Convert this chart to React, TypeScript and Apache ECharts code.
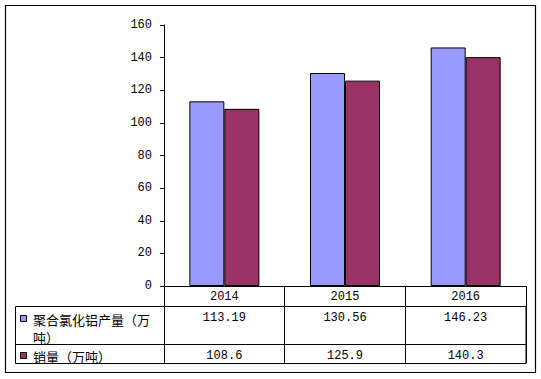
import React, { useEffect, useRef } from "react";
import * as echarts from "echarts";

const categories = ["2014", "2015", "2016"];
const seriesNames = ["聚合氯化铝产量（万吨）", "销量（万吨）"];
const seriesColors = ["#9999FF", "#993366"];
const production = [113.19, 130.56, 146.23];
const sales = [108.6, 125.9, 140.3];
const yMin = 0;
const yMax = 160;
const yStep = 20;

const numFont = "'Liberation Mono', 'Noto Sans CJK SC', monospace";
const cjkFont = "'Noto Sans CJK SC', sans-serif";

export default function App() {
  const ref = useRef<HTMLDivElement>(null);
  useEffect(() => {
    if (!ref.current) return;
    const chart = echarts.init(ref.current, undefined, { renderer: "svg" });
    const valueAxis = (offset: number, vals: number[]) => ({
      type: "category",
      data: categories,
      position: "bottom",
      offset,
      gridIndex: 0,
      axisLine: { show: false },
      axisTick: { show: false },
      axisLabel: {
        margin: 6,
        fontSize: 12,
        fontFamily: numFont,
        color: "#000",
        formatter: (_v: string, i: number) => String(vals[i]),
      },
    });
    const legendRows = [310, 347];
    const legendGraphics: any[] = [];
    seriesNames.forEach((name, i) => {
      legendGraphics.push({
        type: "rect",
        shape: { x: 20.5, y: legendRows[i] + 5.5, width: 6, height: 6 },
        style: { fill: seriesColors[i], stroke: "#000", lineWidth: 1 },
        silent: true,
      });
      legendGraphics.push({
        type: "text",
        x: 33,
        y: legendRows[i],
        style: {
          text: name,
          font: `13px ${cjkFont}`,
          fill: "#000",
          width: 122,
          overflow: "break",
          lineHeight: 18,
          verticalAlign: "top",
        },
        silent: true,
      });
    });
    chart.setOption({
      animation: false,
      backgroundColor: "#fff",
      grid: { left: 164, right: 15, top: 25, bottom: 93, containLabel: false },
      xAxis: [
        {
          type: "category",
          data: categories,
          position: "bottom",
          axisLine: { show: true, lineStyle: { color: "#000", width: 1 } },
          axisTick: { show: true, length: 77, lineStyle: { color: "#000", width: 1 } },
          axisLabel: { margin: 5, fontSize: 12, fontFamily: numFont, color: "#000" },
        },
        valueAxis(20, production),
        valueAxis(58, sales),
      ],
      yAxis: {
        type: "value",
        min: yMin,
        max: yMax,
        interval: yStep,
        axisLine: { show: true, lineStyle: { color: "#000", width: 1 } },
        axisTick: { show: true, length: 4, lineStyle: { color: "#000" } },
        splitLine: { show: false },
        axisLabel: { margin: 12, fontSize: 12, fontFamily: numFont, color: "#000" },
      },
      series: [
        {
          name: seriesNames[0],
          type: "bar",
          data: production,
          barWidth: 35,
          barGap: "0%",
          itemStyle: { color: seriesColors[0], borderColor: "#000", borderWidth: 1 },
        },
        {
          name: seriesNames[1],
          type: "bar",
          data: sales,
          barWidth: 35,
          barGap: "0%",
          itemStyle: { color: seriesColors[1], borderColor: "#000", borderWidth: 1 },
        },
      ],
      graphic: [
        {
          type: "rect",
          shape: { x: 5.5, y: 5.5, width: 530, height: 367 },
          style: { fill: "none", stroke: "#000", lineWidth: 1.2 },
          silent: true,
        },
        {
          type: "rect",
          shape: { x: 15.5, y: 306.5, width: 510.5, height: 57 },
          style: { fill: "none", stroke: "#000", lineWidth: 1 },
          silent: true,
        },
        {
          type: "line",
          shape: { x1: 15.5, y1: 344.5, x2: 526, y2: 344.5 },
          style: { stroke: "#000", lineWidth: 1 },
          silent: true,
        },
        ...legendGraphics,
      ],
    });
    return () => chart.dispose();
  }, []);
  return <div ref={ref} style={{ width: 541, height: 379, position: "absolute", left: 0, top: 0 }} />;
}
